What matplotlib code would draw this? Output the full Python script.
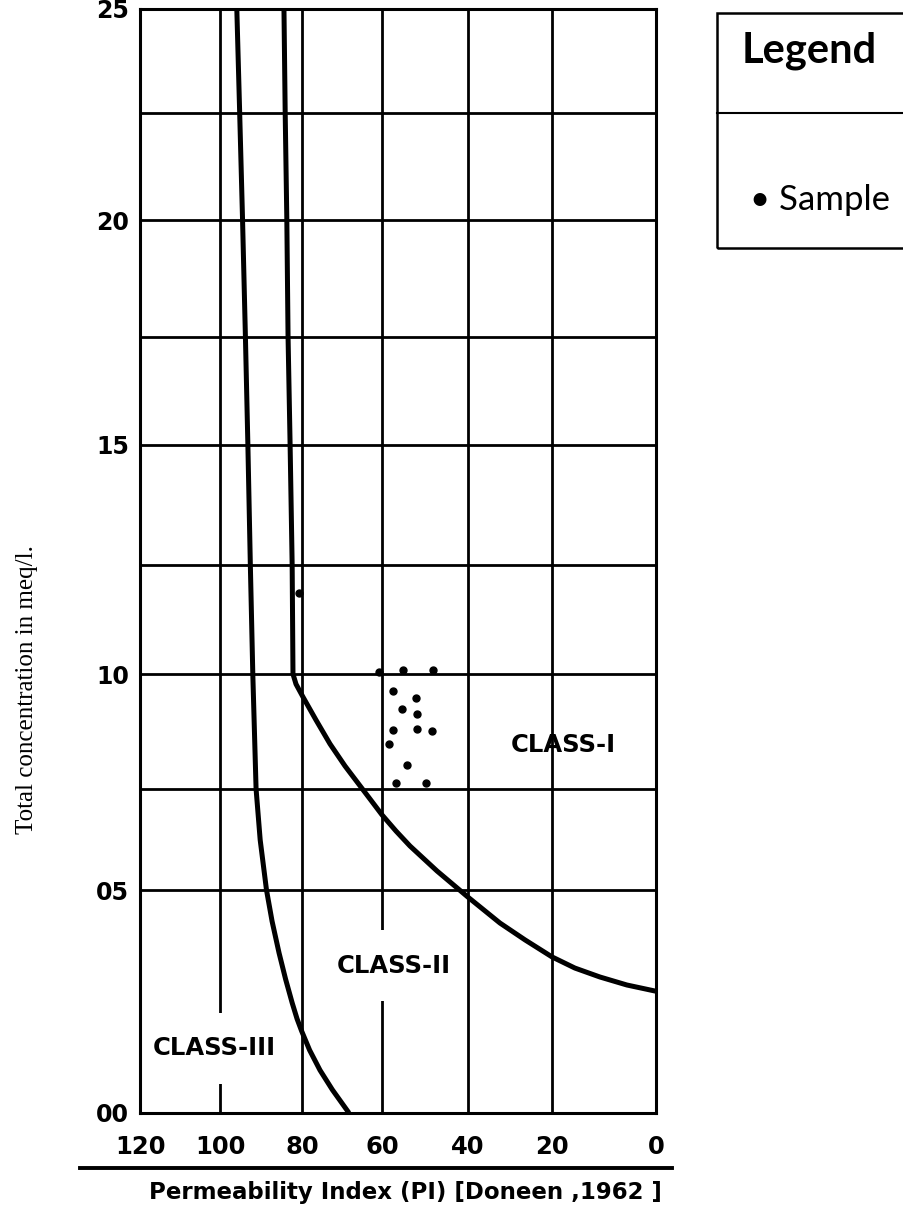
import numpy as np
import matplotlib.pyplot as plt
from matplotlib.lines import Line2D
from matplotlib.patches import Rectangle

# Doneen (1962) class boundaries (PI, total conc. meq/l)
class3_pi = [95.9, 95.2, 94.5, 93.8, 93.2, 92.6, 92.0, 91.2, 90.2, 88.66, 87.3, 85.6,
             84.0, 82.4, 81.2, 80.1, 78.1, 75.5, 72.4, 68.25]
class3_conc = [25, 22.5, 20, 17.5, 15, 12.5, 10, 7.5, 6.24, 5, 4.30, 3.59,
               3.0, 2.47, 2.11, 1.84, 1.41, 0.96, 0.52, 0]

class1_pi = [84.4, 84.1, 83.7, 83.4, 82.9, 82.4, 82.2, 81.46, 79.75, 76.5, 73.0,
             69.25, 65.5, 62.75, 60.0, 56.75, 53.5, 47.2, 40.0, 32.4, 26.4, 20.0,
             15.6, 10.8, 5.6, 0]
class1_conc = [25, 22.5, 20, 17.5, 15, 12.5, 10, 9.78, 9.50, 9.0, 8.48,
               8.0, 7.57, 7.22, 6.86, 6.46, 6.09, 5.47, 4.84, 4.26, 3.88, 3.50,
               3.25, 3.05, 2.87, 2.73]

# samples
sample_pi = [80.7, 60.8, 55.1, 48.1, 57.5, 52.1, 55.4, 51.8, 57.4, 51.8, 48.4, 58.3, 54.3, 56.7, 49.8]
sample_conc = [11.86, 10.05, 10.09, 10.09, 9.63, 9.47, 9.23, 9.13, 8.78, 8.80, 8.77, 8.48, 8.02, 7.62, 7.62]

pi_ticks = [120, 100, 80, 60, 40, 20, 0]
conc_ticks = [0, 5, 10, 15, 20, 25]
conc_labels = ['00', '05', '10', '15', '20', '25']
conc_minor = [7.5, 12.5, 17.5, 22.5]

# the printed sheet is not evenly ruled, so use a piecewise-linear scale
pi_knots = [0, 20, 40, 60, 80, 100, 120]
pi_ruled = [0, 104, 188, 274, 354, 436, 516]
conc_knots = [0, 5, 7.5, 10, 12.5, 15, 17.5, 20, 22.5, 25]
conc_ruled = [0, 223, 324, 439, 548, 668, 776, 893, 1000, 1104]


def piecewise(xp, fp):
    xp = np.asarray(xp, float)
    fp = np.asarray(fp, float)
    lo = (fp[1] - fp[0]) / (xp[1] - xp[0])
    hi = (fp[-1] - fp[-2]) / (xp[-1] - xp[-2])

    def f(v):
        v = np.asarray(v, float)
        out = np.interp(v, xp, fp)
        out = np.where(v < xp[0], fp[0] + (v - xp[0]) * lo, out)
        out = np.where(v > xp[-1], fp[-1] + (v - xp[-1]) * hi, out)
        return out
    return f


W, H = 904, 1212
fig = plt.figure(figsize=(W / 100, H / 100), dpi=100)
ax = fig.add_axes([140 / W, (H - 1113) / H, 516 / W, 1104 / H])

ax.set_xscale('function', functions=(piecewise(pi_knots, pi_ruled), piecewise(pi_ruled, pi_knots)))
ax.set_yscale('function', functions=(piecewise(conc_knots, conc_ruled), piecewise(conc_ruled, conc_knots)))
ax.set_xlim(120, 0)
ax.set_ylim(0, 25)

ax.set_xticks(pi_ticks)
ax.set_xticklabels([str(t) for t in pi_ticks])
ax.set_yticks(conc_ticks)
ax.set_yticklabels(conc_labels)
ax.set_yticks(conc_minor, minor=True)
ax.grid(True, which='both', color='black', linewidth=2.0)
ax.tick_params(which='both', length=0)
ax.tick_params(axis='x', pad=16, labelsize=17.5)
ax.tick_params(axis='y', pad=8, labelsize=17)
for lab in ax.get_xticklabels() + ax.get_yticklabels():
    lab.set_fontweight('bold')
for sp in ax.spines.values():
    sp.set_linewidth(2.2)

line_kw = dict(color='black', linewidth=3.6, solid_capstyle='butt', solid_joinstyle='round')
ax.plot(class3_pi, class3_conc, **line_kw)
ax.plot(class1_pi, class1_conc, **line_kw)
ax.plot(sample_pi, sample_conc, 'o', color='black', markersize=5, zorder=4)

txt = dict(fontsize=17.5, fontweight='bold', ha='center', va='center', linespacing=0.9, zorder=3)
ax.text(17.9, 8.46, 'CLASS-I', **txt)
ax.text(57.2, 3.3, '\nCLASS-II\n', bbox=dict(fc='white', ec='none', pad=1), **txt)
ax.text(101.5, 1.45, '\nCLASS-III\n', bbox=dict(fc='white', ec='none', pad=1), **txt)

# rule and caption under the axis
fig.add_artist(Line2D([80 / W, 672 / W], [(H - 1168) / H] * 2, color='black', linewidth=2.8))
fig.text(405 / W, (H - 1193) / H, 'Permeability Index (PI) [Doneen ,1962 ]',
         ha='center', va='center', fontsize=16.5, fontweight='bold')
fig.text(27 / W, (H - 690) / H, 'Total concentration in meq/l.', rotation=90,
         ha='center', va='center', fontsize=18, family='Liberation Serif')

# legend box, running off the right edge
fig.add_artist(Rectangle((717 / W, (H - 248) / H), 300 / W, 235 / H, transform=fig.transFigure,
                         fill=False, edgecolor='black', linewidth=1.8, clip_on=False))
fig.add_artist(Line2D([717 / W, 1.0], [(H - 113) / H] * 2, color='black', linewidth=1.5))
fig.text(742 / W, (H - 63) / H, 'Legend', ha='left', va='baseline',
         fontsize=30, fontweight='bold', family=['Lato', 'DejaVu Sans'])
fig.text(750 / W, (H - 210) / H, '\u2022 Sample', ha='left', va='baseline',
         fontsize=25, family=['Lato', 'DejaVu Sans'])

fig.savefig('out.png', dpi=100)
